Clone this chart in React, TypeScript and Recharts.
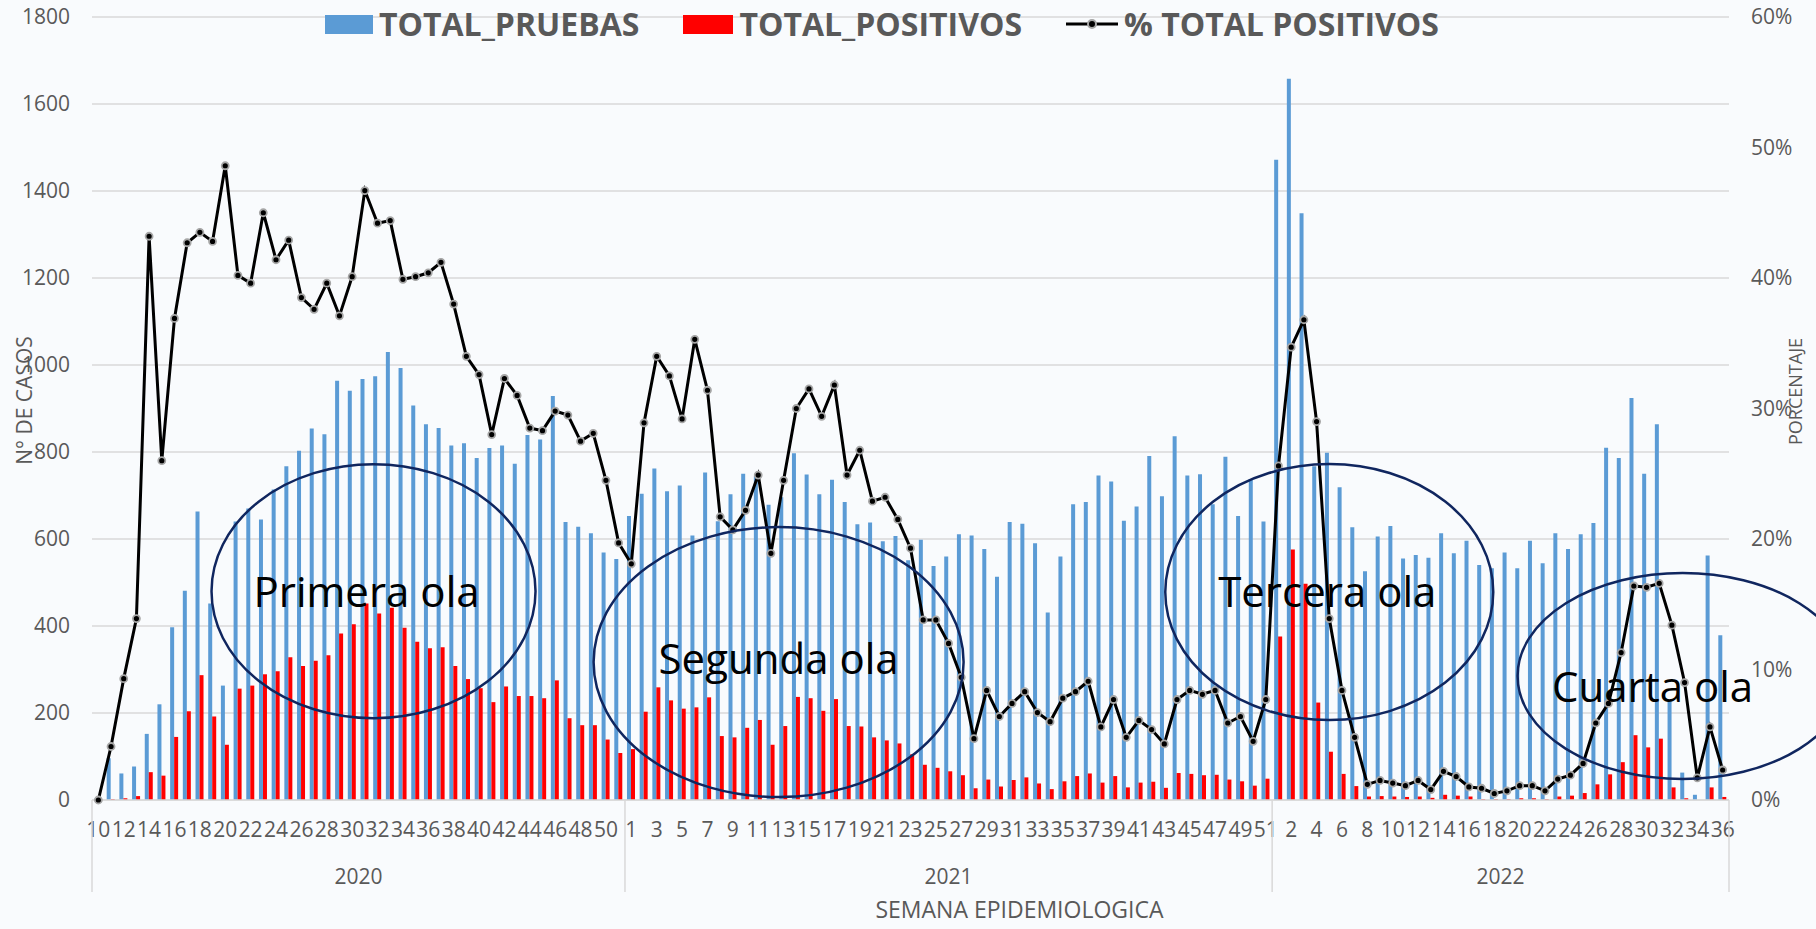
import React from "react";
import {
  ComposedChart,
  Bar,
  Line,
  XAxis,
  YAxis,
  CartesianGrid,
  ReferenceDot,
  Label,
} from "recharts";

const years = ["2020", "2021", "2022"];

const weeks2020 = [
  10, 11, 12, 13, 14, 15, 16, 17, 18, 19, 20, 21, 22, 23, 24, 25, 26, 27, 28, 29, 30,
  31, 32, 33, 34, 35, 36, 37, 38, 39, 40, 41, 42, 43, 44, 45, 46, 47, 48, 49, 50, 51,
];
const weeks2021 = [
  1, 2, 3, 4, 5, 6, 7, 8, 9, 10, 11, 12, 13, 14, 15, 16, 17, 18, 19, 20, 21, 22, 23, 24,
  25, 26, 27, 28, 29, 30, 31, 32, 33, 34, 35, 36, 37, 38, 39, 40, 41, 42, 43, 44, 45, 46,
  47, 48, 49, 50, 51,
];
const weeks2022 = [
  1, 2, 3, 4, 5, 6, 7, 8, 9, 10, 11, 12, 13, 14, 15, 16, 17, 18, 19, 20, 21, 22, 23, 24,
  25, 26, 27, 28, 29, 30, 31, 32, 33, 34, 35, 36,
];

// TOTAL_PRUEBAS
const pruebas2020 = [
  3, 96, 61, 77, 152, 220, 397, 481, 663, 452, 263, 640, 670, 645, 714, 767, 803, 854, 841, 964, 941,
  968, 974, 1030, 993, 907, 864, 855, 815, 820, 786, 809, 815, 773, 839, 829, 929, 639, 628, 613, 569, 554,
];
const pruebas2021 = [
  653, 704, 762, 710, 723, 608, 753, 641, 703, 750, 745, 679, 696, 797, 748, 703, 736, 685, 634, 638,
  595, 607, 551, 598, 538, 560, 611, 608, 577, 513, 639, 635, 590, 431, 560, 680, 685, 746, 732, 642,
  675, 791, 698, 836, 746, 749, 680, 789, 653, 738, 640,
];
const pruebas2022 = [
  1472, 1658, 1349, 767, 798, 719, 627, 526, 606, 630, 555, 563, 557, 613, 567, 596, 540, 533, 569, 533,
  596, 544, 613, 577, 611, 637, 810, 786, 924, 750, 864, 227, 63, 12, 562, 379,
];

// TOTAL_POSITIVOS
const positivos2020 = [
  0, 2, 4, 9, 64, 56, 145, 204, 287, 192, 127, 256, 263, 289, 296, 328, 308, 320, 333, 383, 404,
  452, 429, 442, 396, 364, 349, 351, 308, 278, 257, 225, 261, 239, 239, 234, 275, 188, 172, 172, 139, 108,
];
const positivos2021 = [
  117, 203, 259, 229, 210, 213, 236, 147, 144, 166, 184, 127, 170, 237, 234, 205, 232, 170, 169, 144,
  137, 130, 105, 81, 74, 66, 57, 27, 47, 31, 46, 52, 38, 25, 43, 55, 61, 40, 55, 29,
  40, 42, 28, 62, 60, 57, 58, 47, 43, 33, 49,
];
const positivos2022 = [
  376, 576, 497, 224, 111, 60, 32, 8, 9, 8, 7, 8, 5, 12, 10, 8, 2, 2, 2, 4,
  4, 2, 8, 10, 16, 36, 59, 87, 149, 121, 141, 29, 4, 0, 29, 7,
];

// % TOTAL POSITIVOS
const pct2020 = [
  0, 4.1, 9.3, 13.9, 43.2, 26.0, 36.9, 42.7, 43.5, 42.8, 48.6, 40.2, 39.6, 45.0, 41.4, 42.9, 38.5, 37.6,
  39.6, 37.1, 40.1, 46.7, 44.2, 44.4, 39.9, 40.1, 40.4, 41.2, 38.0, 34.0, 32.6, 28.0, 32.3, 31.0, 28.5,
  28.3, 29.8, 29.5, 27.5, 28.1, 24.5, 19.7,
];
const pct2021 = [
  18.1, 28.9, 34.0, 32.5, 29.2, 35.3, 31.4, 21.7, 20.7, 22.2, 24.9, 18.9, 24.5, 30.0, 31.5, 29.4, 31.8,
  24.9, 26.8, 22.9, 23.2, 21.5, 19.3, 13.8, 13.8, 12.0, 9.4, 4.7, 8.4, 6.4, 7.4, 8.3, 6.7, 6.0, 7.8,
  8.3, 9.1, 5.6, 7.7, 4.8, 6.1, 5.4, 4.3, 7.7, 8.4, 8.1, 8.4, 5.9, 6.4, 4.5, 7.7,
];
const pct2022 = [
  25.6, 34.7, 36.8, 29.0, 13.9, 8.4, 4.8, 1.2, 1.5, 1.3, 1.1, 1.5, 0.8, 2.2, 1.8, 1.0, 0.9, 0.5, 0.7,
  1.1, 1.1, 0.7, 1.6, 1.9, 2.8, 5.9, 7.4, 11.3, 16.4, 16.3, 16.6, 13.4, 9.0, 1.7, 5.6, 2.3,
];

const leftTicks = [0, 200, 400, 600, 800, 1000, 1200, 1400, 1600, 1800];
const rightTicks = [0, 10, 20, 30, 40, 50, 60];

// annotations ("olas"): label, category and value of the centre
const olaLabels = ["Primera ola", "Segunda ola", "Tercera ola", "Cuarta ola"];
const olaWeeks = ["2020-32", "2021-13", "2022-5", "2022-33"];
const olaValues = [480, 317, 478, 285];

// drawing geometry for each ola ellipse (px)
const olaShapes = [
  { dx: -4, rx: 162, ry: 127, tx: -7, ty: 1 },
  { dx: -5, rx: 185, ry: 135, tx: 0, ty: -3 },
  { dx: 0, rx: 164, ry: 128, tx: -2, ty: 0 },
  { dx: -2, rx: 165, ry: 103, tx: -30, ty: 11 },
];

const seriesByYear: Record<string, number[][]> = {
  "2020": [weeks2020, pruebas2020, positivos2020, pct2020],
  "2021": [weeks2021, pruebas2021, positivos2021, pct2021],
  "2022": [weeks2022, pruebas2022, positivos2022, pct2022],
};

const rows = years.flatMap((year) => {
  const [wk, pr, po, pc] = seriesByYear[year];
  return wk.map((w, i) => ({
    key: `${year}-${w}`,
    year,
    week: w,
    pruebas: pr[i],
    positivos: po[i],
    pct: pc[i],
  }));
});

const yearStart: Record<string, number> = {};
const yearCount: Record<string, number> = {};
rows.forEach((r, i) => {
  if (yearStart[r.year] === undefined) yearStart[r.year] = i;
  yearCount[r.year] = (yearCount[r.year] || 0) + 1;
});

const W = 1816;
const H = 929;
const LEFT_W = 92;
const RIGHT_W = 87;
const PLOT_W = W - LEFT_W - RIGHT_W;
const BAND = PLOT_W / rows.length;

const FONT = "'Open Sans', 'Liberation Sans', sans-serif";
const GREY = "#595959";
const AXIS_GREY = "#d9d9d9";

const WeekTick = (props: any) => {
  const { x, y, payload } = props;
  const i = props.index ?? payload.index;
  const row = rows[i];
  if (!row) return null;
  const items: React.ReactNode[] = [];
  if (i % 2 === 0) {
    items.push(
      <text key="w" x={x} y={y + 30} dy="0.35em" textAnchor="middle" fill={GREY} fontSize={21} fontFamily={FONT}>
        {row.week}
      </text>
    );
  }
  if (yearStart[row.year] === i) {
    const left = x - BAND / 2;
    items.push(<line key="s" x1={left} x2={left} y1={y} y2={y + 92} stroke={AXIS_GREY} strokeWidth={1.5} />);
    items.push(
      <text key="y" x={left + (yearCount[row.year] * BAND) / 2} y={y + 77} dy="0.35em" textAnchor="middle" fill={GREY} fontSize={21} fontFamily={FONT}>
        {row.year}
      </text>
    );
  }
  if (i === rows.length - 1) {
    const right = x + BAND / 2;
    items.push(<line key="e" x1={right} x2={right} y1={y} y2={y + 92} stroke={AXIS_GREY} strokeWidth={1.5} />);
  }
  return <g>{items}</g>;
};

const OlaShape = (idx: number) => (props: any) => {
  const { cx, cy } = props;
  const s = olaShapes[idx];
  const ex = cx + s.dx;
  return (
    <g>
      <ellipse cx={ex} cy={cy} rx={s.rx} ry={s.ry} fill="none" stroke="#10265f" strokeWidth={2.5} />
      <text x={ex + s.tx} y={cy + s.ty} dy="0.35em" textAnchor="middle" fill="#000" fontSize={42} fontFamily={FONT}>
        {olaLabels[idx]}
      </text>
    </g>
  );
};

const LegendBox = () => (
  <div
    style={{
      position: "absolute",
      top: 6,
      left: 325,
      display: "flex",
      alignItems: "center",
      fontFamily: FONT,
      fontWeight: 700,
      fontSize: 32,
      color: GREY,
      whiteSpace: "nowrap",
      lineHeight: "36px",
    }}
  >
    <span style={{ width: 48, height: 19, background: "#5b9bd5", display: "inline-block", marginRight: 6 }} />
    <span style={{ marginRight: 44 }}>TOTAL_PRUEBAS</span>
    <span style={{ width: 50, height: 19, background: "#ff0000", display: "inline-block", marginRight: 6 }} />
    <span style={{ marginRight: 44 }}>TOTAL_POSITIVOS</span>
    <svg width={52} height={20} style={{ marginRight: 6 }}>
      <line x1={0} x2={52} y1={10} y2={10} stroke="#000" strokeWidth={3} />
      <circle cx={26} cy={10} r={4} fill="#000" stroke="#a6a6a6" strokeWidth={2} />
    </svg>
    <span>% TOTAL POSITIVOS</span>
  </div>
);

export default function App() {
  return (
    <div style={{ position: "absolute", left: 0, top: 0, width: W, height: H, background: "#f9fbfd", overflow: "hidden" }}>
      <ComposedChart
        width={W}
        height={H}
        data={rows}
        margin={{ top: 17, right: 0, bottom: 0, left: 0 }}
        barGap={0}
      >
        <CartesianGrid yAxisId="left" vertical={false} stroke={AXIS_GREY} strokeWidth={1.5} />
        <XAxis
          dataKey="key"
          interval={0}
          height={H - 17 - 783}
          tickSize={0}
          tickMargin={0}
          tickLine={false}
          axisLine={{ stroke: AXIS_GREY, strokeWidth: 1.5 }}
          tick={(p: any) => <WeekTick {...p} />}
        >
          <Label
            content={(p: any) => {
              const vb = p.viewBox || {};
              return (
                <text x={vb.x + vb.width / 2 + 109} y={vb.y + 110} dy="0.35em" textAnchor="middle" fill={GREY} fontSize={23} fontFamily={FONT}>
                  SEMANA EPIDEMIOLOGICA
                </text>
              );
            }}
          />
        </XAxis>
        <YAxis
          yAxisId="left"
          width={LEFT_W}
          domain={[0, 1800]}
          ticks={leftTicks}
          axisLine={false}
          tickLine={false}
          tickSize={0}
          tickMargin={22}
          tick={{ fill: GREY, fontSize: 21, fontFamily: FONT }}
        >
          <Label
            content={(p: any) => {
              const vb = p.viewBox || {};
              const cx = vb.x + 25;
              const cy = vb.y + vb.height / 2 - 8;
              return (
                <text x={cx} y={cy} dy="0.35em" textAnchor="middle" fill={GREY} fontSize={21} fontFamily={FONT} transform={`rotate(-90 ${cx} ${cy})`}>
                  N° DE CASOS
                </text>
              );
            }}
          />
        </YAxis>
        <YAxis
          yAxisId="right"
          orientation="right"
          width={RIGHT_W}
          domain={[0, 60]}
          ticks={rightTicks}
          axisLine={false}
          tickLine={false}
          tickSize={0}
          tickMargin={22}
          tickFormatter={(v: number) => `${v}%`}
          tick={{ fill: GREY, fontSize: 21, fontFamily: FONT }}
        >
          <Label
            content={(p: any) => {
              const vb = p.viewBox || {};
              const cx = vb.x + 67;
              const cy = vb.y + vb.height / 2 - 17;
              return (
                <text x={cx} y={cy} dy="0.35em" textAnchor="middle" fill={GREY} fontSize={18} fontFamily={FONT} transform={`rotate(-90 ${cx} ${cy})`}>
                  PORCENTAJE
                </text>
              );
            }}
          />
        </YAxis>
        <Bar yAxisId="left" dataKey="pruebas" name="TOTAL_PRUEBAS" fill="#5b9bd5" barSize={4} isAnimationActive={false} />
        <Bar yAxisId="left" dataKey="positivos" name="TOTAL_POSITIVOS" fill="#ff0000" barSize={4} isAnimationActive={false} />
        <Line
          yAxisId="right"
          dataKey="pct"
          name="% TOTAL POSITIVOS"
          stroke="#000"
          strokeWidth={3}
          dot={{ r: 3.5, fill: "#000", stroke: "#a6a6a6", strokeWidth: 1.8 }}
          activeDot={false}
          isAnimationActive={false}
        />
        {olaLabels.map((label, idx) => (
          <ReferenceDot
            key={label}
            yAxisId="left"
            x={olaWeeks[idx]}
            y={olaValues[idx]}
            r={1}
            ifOverflow="visible"
            shape={OlaShape(idx)}
          />
        ))}
      </ComposedChart>
      <LegendBox />
    </div>
  );
}
